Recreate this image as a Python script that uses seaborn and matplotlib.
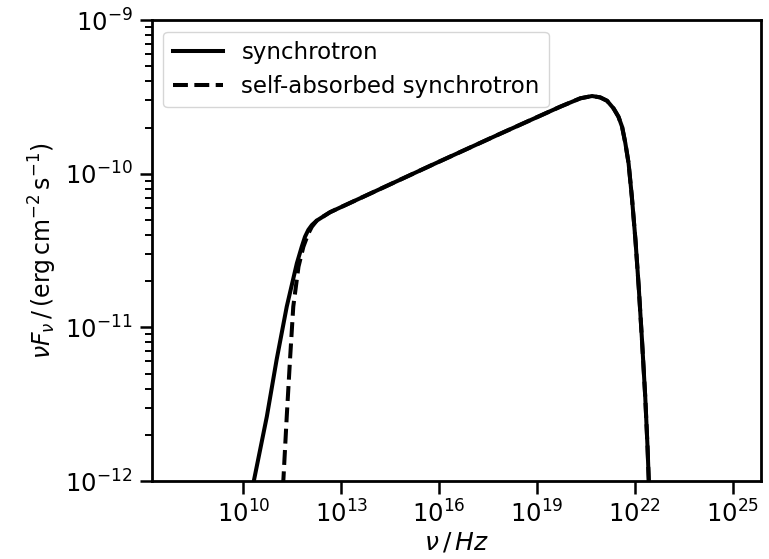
import numpy as np
import matplotlib
matplotlib.use("Agg")
import matplotlib.pyplot as plt
import matplotlib.ticker as mticker
import seaborn as sns

# Values (log10 of frequency [Hz] and log10 of nuF_nu [erg cm^-2 s^-1])
sync_lognu = [10.00, 10.33, 10.72, 11.02, 11.33, 11.64, 11.79, 11.89, 11.99, 12.10,
              12.25, 12.45, 12.66, 15.83, 17.87, 19.71, 20.33, 20.69, 20.94,
              21.15, 21.35, 21.50, 21.61, 21.71, 21.81, 21.91, 22.02, 22.12, 22.22,
              22.32, 22.39, 22.44, 22.47]
sync_logF = [-12.38, -11.99, -11.58, -11.21, -10.865, -10.583, -10.475, -10.41, -10.366, -10.334,
             -10.305, -10.278, -10.250, -9.938, -9.740, -9.564, -9.509, -9.494, -9.503,
             -9.525, -9.575, -9.629, -9.694, -9.80, -9.932, -10.15, -10.43, -10.735, -11.08,
             -11.45, -11.776, -12.06, -12.30]

ssa_low_lognu = [11.10, 11.23, 11.33, 11.43, 11.53, 11.69, 11.84, 11.99, 12.10]
ssa_low_logF = [-12.45, -11.98, -11.58, -11.21, -10.865, -10.605, -10.475, -10.39, -10.345]

xtick_exps = [10, 13, 16, 19, 22, 25]
ytick_exps = [-12, -11, -10, -9]

sync_nu = 10.0 ** np.array(sync_lognu)
sync_F = 10.0 ** np.array(sync_logF)
# self-absorbed curve joins the synchrotron curve above the knee
join = np.array(sync_lognu) >= 12.2
ssa_nu = np.concatenate([10.0 ** np.array(ssa_low_lognu), sync_nu[join]])
ssa_F = np.concatenate([10.0 ** np.array(ssa_low_logF), sync_F[join]])

fig = plt.figure(figsize=(7.69, 5.59), dpi=100)
ax = fig.add_axes([0.1977, 0.1395, 0.7915, 0.8245])

lw = 2.9
sns.lineplot(x=sync_nu, y=sync_F, ax=ax, color="black", lw=lw, label="synchrotron")
sns.lineplot(x=ssa_nu, y=ssa_F, ax=ax, color="black", lw=lw, linestyle="--",
             label="self-absorbed synchrotron")

ax.set_xscale("log")
ax.set_yscale("log")
ax.set_xlim(10 ** 7.2, 10 ** 25.86)
ax.set_ylim(1e-12, 1e-9)

ax.set_xticks([10.0 ** e for e in xtick_exps])
ax.set_xticklabels([r"$10^{%d}$" % e for e in xtick_exps])
ax.xaxis.set_minor_locator(mticker.NullLocator())
ax.set_yticks([10.0 ** e for e in ytick_exps])
ax.set_yticklabels([r"$10^{%d}$" % e for e in ytick_exps])
ax.yaxis.set_minor_locator(mticker.LogLocator(base=10, subs=np.arange(2, 10), numticks=20))
ax.yaxis.set_minor_formatter(mticker.NullFormatter())

for s in ax.spines.values():
    s.set_linewidth(2.0)
ax.tick_params(which="major", length=9, width=1.8, labelsize=17.5, pad=5)
ax.tick_params(which="minor", length=5, width=1.4)

ax.set_xlabel(r"$\nu\,/\,Hz$", fontsize=18, labelpad=2)
ax.set_ylabel(r"$\nu F_\nu\,/\,(\mathrm{erg\,cm^{-2}\,s^{-1}})$", fontsize=17)

ax.legend(loc="upper left", fontsize=16.5, handlelength=2.2)

fig.savefig("out.png", dpi=100)
